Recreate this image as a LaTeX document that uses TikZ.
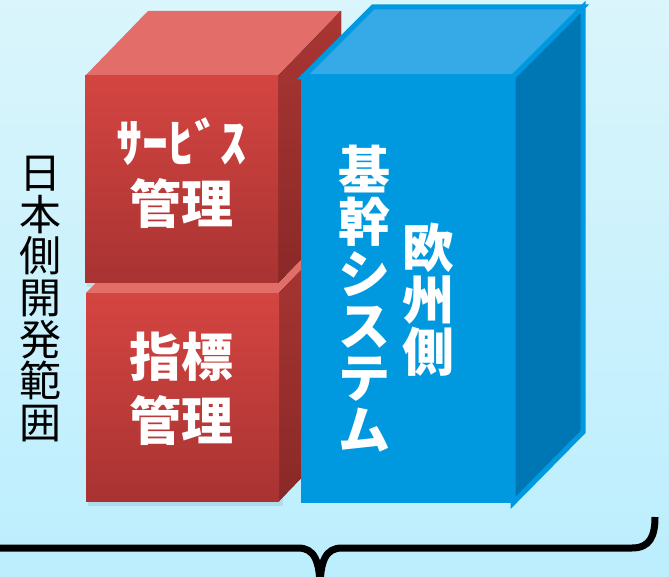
\documentclass[tikz,border=0pt]{standalone}
\usepackage{fontspec}
\newfontfamily\jp{Noto Sans CJK JP}
\usetikzlibrary{calc}
\definecolor{bgtop}{RGB}{218,245,252}
\definecolor{bgbot}{RGB}{188,238,253}
\definecolor{redfronttop}{RGB}{212,69,65}
\definecolor{redfrontbot}{RGB}{168,51,50}
\definecolor{redrighttop}{RGB}{169,54,51}
\definecolor{redrightbot}{RGB}{138,41,40}
\definecolor{redtop}{RGB}{226,109,105}
\definecolor{bluefront}{RGB}{0,153,223}
\definecolor{bluetop}{RGB}{53,170,230}
\definecolor{blueright}{RGB}{0,119,181}
\tikzset{
  redfront/.style={top color=redfronttop,bottom color=redfrontbot,draw=none},
  redright/.style={top color=redrighttop,bottom color=redrightbot,draw=none},
  redtopface/.style={fill=redtop,draw=none},
  redshadow/.style={fill=black,fill opacity=0.08,draw=none},
  whitebold/.style={text=white,font=\jp\bfseries\fontsize{52}{52}\selectfont,align=center,inner sep=0pt},
  blackreg/.style={text=black,font=\jp\fontsize{42}{41.7}\selectfont,align=center,inner sep=0pt},
  bluebox/.style={draw=bluefront,line width=5pt,line join=miter},
  bracestyle/.style={draw=black,line width=7pt,line cap=butt}
}
\begin{document}
\begin{tikzpicture}[x=1pt,y=-1pt]
\useasboundingbox (0,0) rectangle (669,577);
\shade[top color=bgtop,bottom color=bgbot] (0,0) rectangle (669,577);

% shadows
\fill[redshadow] (88,296) rectangle (283,506);
\fill[redshadow] (87,79) rectangle (282,287);

% lower red cube
\coordinate (l1) at (86,293);
\coordinate (l2) at (279,293);
\coordinate (l3) at (279,501);
\coordinate (l4) at (86,501);
\fill[redtopface] (l1) -- ++(63,-65) -- ($(l2)+(63,-65)$) -- (l2) -- cycle;
\fill[redright] (l2) -- ++(63,-65) -- ($(l3)+(63,-65)$) -- (l3) -- cycle;
\fill[redfront] (l1) rectangle (l3);

% upper red cube
\coordinate (u1) at (85,76);
\coordinate (u2) at (278,76);
\coordinate (u3) at (278,283);
\fill[redtopface] (u1) -- ++(63,-65) -- ($(u2)+(63,-65)$) -- (u2) -- cycle;
\fill[redright] (u2) -- ++(63,-65) -- ($(u3)+(63,-65)$) -- (u3) -- cycle;
\fill[redfront] (u1) rectangle (u3);

% blue box
\coordinate (b1) at (303,77);
\coordinate (b2) at (513,77);
\coordinate (b3) at (513,503);
\filldraw[bluebox,fill=bluetop] (b1) -- (373,7) -- (583,7) -- (b2) -- cycle;
\filldraw[bluebox,fill=blueright] (b2) -- (583,7) -- (583,432) -- (b3) -- cycle;
\fill[bluefront] (300.5,74.5) rectangle (b3);

% texts
\node[whitebold] (svc) at (181,142) {ｻｰﾋﾞｽ};
\node[whitebold] (svcm) at (181,204) {管理};
\node[whitebold] (idx) at (181,357) {指標};
\node[whitebold] (idxm) at (181,421) {管理};
\node[whitebold] (core) at (364,299) {基\\幹\\シ\\ス\\テ\\ム};
\node[whitebold] (eu) at (428,300) {欧\\州\\側};
\node[blackreg] (jpside) at (40,299) {日\\本\\側\\開\\発\\範\\囲};

% brace
\coordinate (bl) at (-10,548);
\coordinate (bm) at (320,590);
\coordinate (br) at (655,517);
\draw[bracestyle] (bl) -- (298,548) .. controls (314,548) and (320,560) .. (bm);
\draw[bracestyle] (bm) .. controls (320,560) and (326,548) .. (342,548) -- (632,548) .. controls (650,548) and (655,536) .. (br);
\end{tikzpicture}
\end{document}
